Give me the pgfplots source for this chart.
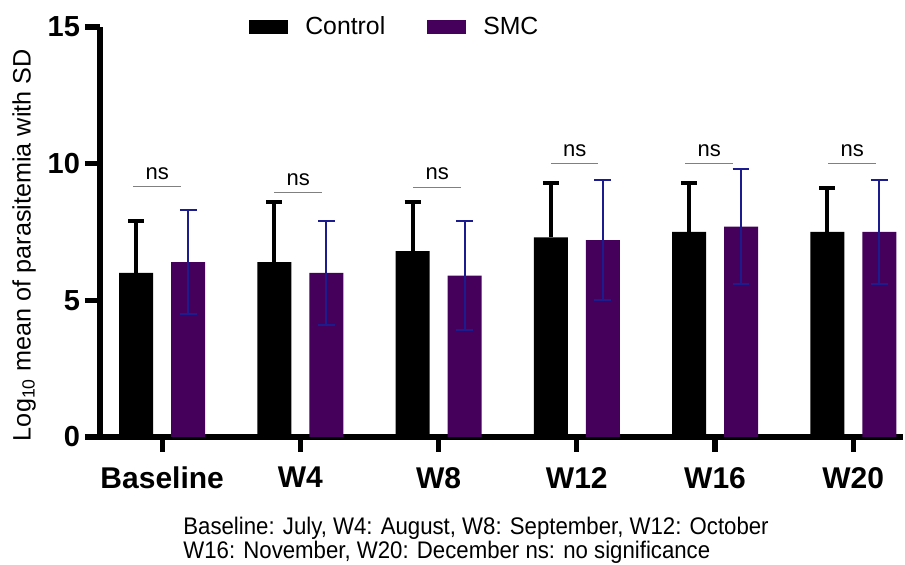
\documentclass[border=0pt]{standalone}
\usepackage{pgfplots}
\pgfplotsset{compat=1.18}
\usepackage{graphicx}
\usepackage{fontspec}
\setmainfont{Liberation Sans}
\definecolor{smcpurple}{HTML}{44005A}
\definecolor{errnavy}{HTML}{1C1C8E}
\definecolor{nsgray}{HTML}{808080}
\begin{document}
\begin{tikzpicture}
\begin{axis}[
  scale only axis,
  width=401.5pt, height=205pt,
  xmin=-0.45, xmax=5.36,
  ymin=0, ymax=15,
  axis x line=bottom, axis y line=left,
  axis line style={line width=2.8pt, -},
  every outer x axis line/.append style={line width=2.8pt},
  every outer y axis line/.append style={line width=2.8pt},
  xtick={0,1,2,3,4,5},
  xticklabels={Baseline,W4,W8,W12,W16,W20},
  ytick={0,5,10,15},
  tick align=outside,
  major tick length=7.5pt,
  tick style={line width=2.6pt, black},
  every tick/.append style={line width=2.6pt, black},
  x tick label style={font=\fontsize{15}{18}\selectfont\bfseries, yshift=-4pt},
  y tick label style={font=\fontsize{14.5}{17}\selectfont\bfseries, xshift=1pt},
  /pgf/number format/assume math mode=true,
  ylabel={Log\textsubscript{10} mean of parasitemia with SD},
  ylabel style={font=\fontsize{12.6}{14}\selectfont, at={(rel axis cs:-0.0946,0.468)}, anchor=center},
  ybar,
  bar width=17pt,
  legend style={at={(0.178,1.0)}, anchor=west, draw=none, fill=none,
    legend columns=2, font=\fontsize{12.4}{14}\selectfont,
    /tikz/every odd column/.append style={column sep=6.5pt},
    /tikz/every even column/.append style={column sep=19pt}},
  legend image code/.code={\fill[#1] (0pt,-3.5pt) rectangle (19.5pt,3.5pt);},
  clip=false,
]
\addplot[fill=black, draw=none, bar shift=-13pt,
  error bars/.cd, y dir=plus, y explicit,
  error bar style={line width=2pt, black},
  error mark options={rotate=90, mark size=4pt, line width=2pt, black}]
  coordinates {
  (0,6.0) +- (0,1.9)
  (1,6.4) +- (0,2.2)
  (2,6.8) +- (0,1.8)
  (3,7.3) +- (0,2.0)
  (4,7.5) +- (0,1.8)
  (5,7.5) +- (0,1.6)
};
\addlegendentry{Control}
\addplot[fill=smcpurple, draw=none, bar shift=13pt,
  error bars/.cd, y dir=both, y explicit,
  error bar style={line width=1pt, errnavy},
  error mark options={rotate=90, mark size=4.2pt, line width=1pt, errnavy}]
  coordinates {
  (0,6.4) +- (0,1.9)
  (1,6.0) +- (0,1.9)
  (2,5.9) +- (0,2.0)
  (3,7.2) +- (0,2.2)
  (4,7.7) +- (0,2.1)
  (5,7.5) +- (0,1.9)
};
\addlegendentry{SMC}
% significance lines
\addplot[sharp plot, nsgray, line width=0.6pt, forget plot] coordinates {(-0.21,9.15) (0.137,9.15)};
\addplot[sharp plot, nsgray, line width=0.6pt, forget plot] coordinates {(0.81,8.94) (1.158,8.94)};
\addplot[sharp plot, nsgray, line width=0.6pt, forget plot] coordinates {(1.816,9.14) (2.164,9.14)};
\addplot[sharp plot, nsgray, line width=0.6pt, forget plot] coordinates {(2.815,10.0) (3.155,10.0)};
\addplot[sharp plot, nsgray, line width=0.6pt, forget plot] coordinates {(3.784,10.0) (4.132,10.0)};
\addplot[sharp plot, nsgray, line width=0.6pt, forget plot] coordinates {(4.819,10.0) (5.166,10.0)};
\foreach \x/\y in {-0.036/9.15, 0.984/8.94, 1.99/9.14, 2.985/10.0, 3.958/10.0, 4.992/10.0}{
  \edef\temp{\noexpand\node[anchor=south, inner sep=0pt, font=\noexpand\fontsize{11}{13}\noexpand\selectfont] at (axis cs:\x,\y) [yshift=3.5pt] {ns};}
  \temp
}
\node[anchor=base west, inner sep=0pt, font=\fontsize{12}{13}\selectfont] at (rel axis cs:0,0) [xshift=41.5pt, yshift=-49pt] {\scalebox{0.925}[1]{Baseline: July, W4: August, W8: September, W12: October}};
\node[anchor=base west, inner sep=0pt, font=\fontsize{12}{13}\selectfont] at (rel axis cs:0,0) [xshift=41.5pt, yshift=-61pt] {\scalebox{0.925}[1]{W16: November, W20: December ns: no significance}};
\end{axis}
\pgfresetboundingbox
\path ([xshift=-50pt,yshift=13.5pt]current axis.north west) rectangle ([xshift=1pt,yshift=-64pt]current axis.south east);
\end{tikzpicture}
\end{document}
